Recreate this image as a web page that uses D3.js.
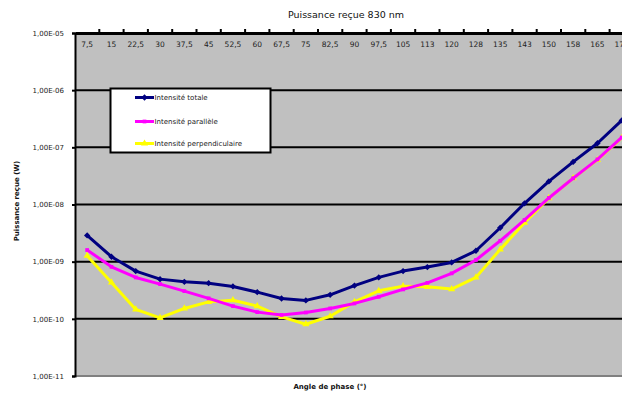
<!DOCTYPE html>
<html>
<head>
<meta charset="utf-8">
<script src="https://cdn.jsdelivr.net/npm/d3@7"></script>
<style>
  body { margin: 0; background: white; }
  text { font-family: "DejaVu Sans", Verdana, sans-serif; }
</style>
</head>
<body>
<div id="chart"></div>
<script>
// Data
const angles = ["7,5","15","22,5","30","37,5","45","52,5","60","67,5","75","82,5","90","97,5","105","113","120","128","135","143","150","158","165","173"];
const totale = [2.88e-9,1.22e-9,6.84e-10,4.95e-10,4.44e-10,4.21e-10,3.69e-10,2.93e-10,2.27e-10,2.10e-10,2.63e-10,3.81e-10,5.31e-10,6.84e-10,8.04e-10,9.7e-10,1.55e-9,3.92e-9,1.05e-8,2.53e-8,5.56e-8,1.18e-7,2.96e-7];
const parallele = [1.60e-9,8.13e-10,5.3e-10,4.05e-10,3.05e-10,2.28e-10,1.67e-10,1.31e-10,1.17e-10,1.29e-10,1.52e-10,1.86e-10,2.43e-10,3.27e-10,4.26e-10,6.24e-10,1.07e-9,2.32e-9,5.36e-9,1.30e-8,2.88e-8,6.15e-8,1.49e-7];
const perpendiculaire = [1.27e-9,4.34e-10,1.46e-10,1.04e-10,1.52e-10,1.98e-10,2.12e-10,1.67e-10,1.08e-10,8.05e-11,1.11e-10,1.98e-10,3.09e-10,3.73e-10,3.63e-10,3.31e-10,5.31e-10,1.64e-9,4.80e-9,1.29e-8,2.88e-8,6.03e-8,1.46e-7];
const yTicks = [1e-5,1e-6,1e-7,1e-8,1e-9,1e-10,1e-11];
const yTickLabels = ["1,00E-05","1,00E-06","1,00E-07","1,00E-08","1,00E-09","1,00E-10","1,00E-11"];

const w = 622;
const h = 394;
const plotLeft = 75, plotTop = 33, plotBottom = 376;
const band = 24.3;

const svg = d3.select("#chart")
  .append("svg")
  .attr("width", w)
  .attr("height", h)
  .style("background-color", "white");

const xScale = d3.scaleBand()
  .domain(angles)
  .range([plotLeft, plotLeft + band * angles.length]);

const yScale = d3.scaleLog()
  .domain([1e-11, 1e-5])
  .range([plotBottom, plotTop]);

// plot area
svg.append("rect")
  .attr("x", plotLeft).attr("y", plotTop)
  .attr("width", w - plotLeft).attr("height", plotBottom - plotTop)
  .attr("fill", "#c0c0c0");

// grid lines
svg.selectAll(".grid")
  .data(yTicks.slice(1, -1))
  .enter()
  .append("line")
  .attr("x1", plotLeft).attr("x2", w)
  .attr("y1", (d) => yScale(d)).attr("y2", (d) => yScale(d))
  .attr("stroke", "black")
  .attr("stroke-width", 2);

// bottom edge
svg.append("line")
  .attr("x1", plotLeft).attr("x2", w)
  .attr("y1", plotBottom).attr("y2", plotBottom)
  .attr("stroke", "#808080").attr("stroke-width", 2);

// y axis
const yAxis = d3.axisLeft(yScale)
  .tickValues(yTicks)
  .tickSize(3)
  .tickFormat((d, i) => yTickLabels[i]);
const gy = svg.append("g")
  .attr("transform", "translate(" + plotLeft + ",0)")
  .call(yAxis);
gy.select(".domain").attr("stroke", "black").attr("stroke-width", 2);
gy.selectAll("line").attr("stroke", "black").attr("stroke-width", 2);
gy.selectAll("text")
  .attr("x", -11)
  .style("font-size", "7px")
  .style("font-family", "DejaVu Sans, Verdana, sans-serif")
  .attr("fill", "#222");

// x axis across the top (crosses at max)
const xAxis = d3.axisTop(xScale).tickSize(0).tickSizeOuter(0);
const gx = svg.append("g")
  .attr("transform", "translate(0," + plotTop + ")")
  .call(xAxis);
gx.select(".domain").attr("stroke", "black").attr("stroke-width", 3);
gx.selectAll("text")
  .attr("y", 14)
  .style("font-size", "7.5px")
  .style("font-family", "DejaVu Sans, Verdana, sans-serif")
  .attr("fill", "#222");

// small ticks between categories
svg.selectAll(".xtick")
  .data(angles.slice(1))
  .enter()
  .append("line")
  .attr("x1", (d) => xScale(d)).attr("x2", (d) => xScale(d))
  .attr("y1", plotTop - 4).attr("y2", plotTop)
  .attr("stroke", "black").attr("stroke-width", 2);

// series
const series = [
  {name: "Intensité totale", values: totale, color: "#000080", marker: d3.symbolSquare, size: 20, rot: 45},
  {name: "Intensité parallèle", values: parallele, color: "#ff00ff", marker: d3.symbolSquare, size: 14, rot: 0},
  {name: "Intensité perpendiculaire", values: perpendiculaire, color: "#ffff00", marker: d3.symbolTriangle, size: 22, rot: 0}
];

const line = d3.line()
  .x((d, i) => xScale(angles[i]) + xScale.bandwidth() / 2)
  .y((d) => yScale(d));

series.slice().reverse().forEach(function (s) {
  svg.append("path")
    .datum(s.values)
    .attr("d", line)
    .attr("fill", "none")
    .attr("stroke", s.color)
    .attr("stroke-width", 3)
    .attr("stroke-linejoin", "round");

  svg.selectAll(null)
    .data(s.values)
    .enter()
    .append("path")
    .attr("d", d3.symbol().type(s.marker).size(s.size))
    .attr("transform", (d, i) => "translate(" + (xScale(angles[i]) + xScale.bandwidth() / 2) + "," + yScale(d) + ") rotate(" + s.rot + ")")
    .attr("fill", s.color);
});

// legend
const legend = svg.append("g");
legend.append("rect")
  .attr("x", 110.5).attr("y", 88.5)
  .attr("width", 160).attr("height", 64)
  .attr("fill", "white")
  .attr("stroke", "black").attr("stroke-width", 2);

const rowY = [97.5, 121.5, 143.5];
series.forEach(function (s, i) {
  legend.append("line")
    .attr("x1", 135).attr("x2", 154)
    .attr("y1", rowY[i]).attr("y2", rowY[i])
    .attr("stroke", s.color).attr("stroke-width", 3);
  legend.append("path")
    .attr("d", d3.symbol().type(s.marker).size(s.size))
    .attr("transform", "translate(144.5," + rowY[i] + ") rotate(" + s.rot + ")")
    .attr("fill", s.color);
  legend.append("text")
    .attr("x", 154.5).attr("y", rowY[i] + 2.5)
    .text(s.name)
    .style("font-size", "7px")
    .attr("fill", "#222");
});

// titles
svg.append("text")
  .attr("x", 346).attr("y", 18)
  .attr("text-anchor", "middle")
  .style("font-size", "9.5px")
  .attr("fill", "#111")
  .text("Puissance reçue 830 nm");

svg.append("text")
  .attr("transform", "translate(19,201) rotate(-90)")
  .attr("text-anchor", "middle")
  .style("font-size", "7px")
  .style("font-weight", "bold")
  .attr("fill", "#111")
  .text("Puissance  reçue  (W)");

svg.append("text")
  .attr("x", 330).attr("y", 389)
  .attr("text-anchor", "middle")
  .style("font-size", "7px")
  .style("font-weight", "bold")
  .attr("fill", "#111")
  .text("Angle de phase (°)");
</script>
</body>
</html>
